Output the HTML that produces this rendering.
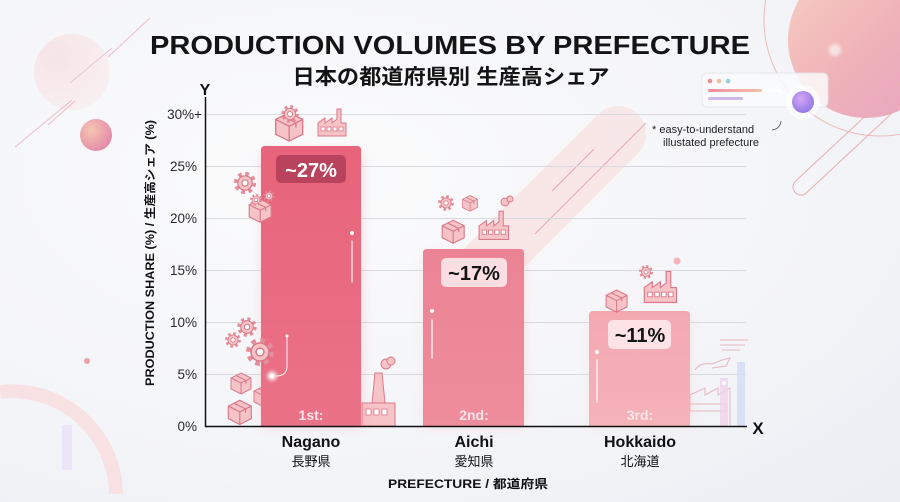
<!DOCTYPE html>
<html><head><meta charset="utf-8"><style>
html,body{margin:0;padding:0;width:900px;height:502px;overflow:hidden;background:#f6f6f9}
svg{display:block;overflow:hidden}
text{font-family:"Liberation Sans","Noto Sans CJK JP",sans-serif}
</style></head><body>
<svg width="900" height="502" viewBox="0 0 900 502" xmlns="http://www.w3.org/2000/svg">
<defs>
<radialGradient id="bg" cx="0.35" cy="0.35" r="0.9">
<stop offset="0" stop-color="#fbfbfc"/><stop offset="0.6" stop-color="#f4f5f8"/><stop offset="1" stop-color="#eceef4"/>
</radialGradient>
<linearGradient id="sun" x1="0" y1="0" x2="1" y2="1">
<stop offset="0" stop-color="#f7cfc4"/><stop offset="0.5" stop-color="#f0b4b8"/><stop offset="1" stop-color="#e6a2c4"/>
</linearGradient>
<radialGradient id="ball" cx="0.35" cy="0.35" r="0.7">
<stop offset="0" stop-color="#f6c6b0"/><stop offset="1" stop-color="#e38aa8"/>
</radialGradient>
<radialGradient id="faint" cx="0.3" cy="0.3" r="0.8">
<stop offset="0" stop-color="#f6dfe2"/><stop offset="1" stop-color="#f9eef0"/>
</radialGradient>
<radialGradient id="orb" cx="0.4" cy="0.35" r="0.7">
<stop offset="0" stop-color="#d4a6f2"/><stop offset="1" stop-color="#8f78e6"/>
</radialGradient>
<linearGradient id="b1" x1="0" y1="0" x2="0" y2="1"><stop offset="0" stop-color="#e8647b"/><stop offset="1" stop-color="#ea7287"/></linearGradient>
<linearGradient id="b2" x1="0" y1="0" x2="0" y2="1"><stop offset="0" stop-color="#eb8394"/><stop offset="1" stop-color="#ee8d9c"/></linearGradient>
<linearGradient id="b3" x1="0" y1="0" x2="0" y2="1"><stop offset="0" stop-color="#f4a9b1"/><stop offset="1" stop-color="#f5b2b9"/></linearGradient>
<linearGradient id="cardbar" x1="0" x2="1"><stop offset="0" stop-color="#ec8fa0"/><stop offset="1" stop-color="#f6c1a2"/></linearGradient>
<filter id="sh" x="-30%" y="-20%" width="160%" height="140%"><feGaussianBlur stdDeviation="6"/></filter>
<filter id="glow" x="-100%" y="-100%" width="300%" height="300%"><feGaussianBlur stdDeviation="1.5"/></filter>
<g id="box">
<path d="M12 2 L22 7 L22 18 L12 23 L2 18 L2 7 Z" fill="#f6c3c6" stroke="#d9798a" stroke-width="1"/>
<path d="M2 7 L12 12 L22 7 M12 12 L12 23" fill="none" stroke="#d9798a" stroke-width="1"/>
<path d="M7 4.5 L17 9.5 L17 13" fill="none" stroke="#d9798a" stroke-width="1"/>
</g>
<g id="gear">
<circle r="7.6" fill="none" stroke="#e58e9b" stroke-width="3.4" stroke-dasharray="3 2.97"/>
<circle r="6" fill="#f6c3c6" stroke="#d9798a" stroke-width="1"/>
<circle r="2.6" fill="#fff" stroke="#d9798a" stroke-width="1"/>
</g>
<g id="fac">
<path d="M2 30 V17 L9 12 V17 L16 12 V17 L21 13 V3 H25 V17 H30 V30 Z" fill="#f6c3c6" stroke="#d9798a" stroke-width="1"/>
<rect x="5" y="21" width="4" height="4" fill="#fff" stroke="#d9798a" stroke-width="0.8"/>
<rect x="11" y="21" width="4" height="4" fill="#fff" stroke="#d9798a" stroke-width="0.8"/>
<rect x="17" y="21" width="4" height="4" fill="#fff" stroke="#d9798a" stroke-width="0.8"/>
<rect x="23" y="21" width="4" height="4" fill="#fff" stroke="#d9798a" stroke-width="0.8"/>
</g>
</defs>

<rect width="900" height="502" fill="url(#bg)"/>

<!-- top-right decoration -->
<circle cx="880" cy="20" r="116" fill="none" stroke="#ecbcbc" stroke-width="1"/>
<circle cx="866" cy="40" r="78" fill="url(#sun)"/>
<circle cx="835" cy="50" r="6" fill="#fff" opacity="0.6" filter="url(#glow)"/>
<rect x="-8" y="-8" width="180" height="16" rx="8" transform="translate(801,187) rotate(-43)" fill="none" stroke="#e9afb0" stroke-width="1"/>

<!-- left decorations -->
<circle cx="72" cy="72" r="38" fill="url(#faint)" opacity="0.8"/>
<line x1="15" y1="147" x2="72" y2="100" stroke="#efbcc4" stroke-width="1"/>
<line x1="48" y1="125" x2="75" y2="101" stroke="#efbcc4" stroke-width="1"/>
<line x1="70" y1="83" x2="112" y2="48" stroke="#e6c6d0" stroke-width="1"/>
<line x1="108" y1="57" x2="150" y2="18" stroke="#efbcc4" stroke-width="1"/>
<circle cx="96" cy="135" r="16" fill="url(#ball)"/>
<circle cx="87" cy="361" r="3" fill="#eca1ad"/>
<path d="M 0 392 A 104 104 0 0 1 116 494" fill="none" stroke="#f7e1e3" stroke-width="14"/>
<rect x="62" y="425" width="10" height="45" fill="#e8e2f6" opacity="0.8"/>

<!-- diagonal band -->
<rect x="-28" y="-28" width="290" height="56" rx="28" transform="translate(618,134) rotate(135)" fill="#f9dfdf" opacity="0.7"/>
<line x1="552" y1="191" x2="594" y2="149" stroke="#e3a2b5" stroke-width="1"/>
<line x1="535" y1="234" x2="646" y2="123" stroke="#e8a9b0" stroke-width="1"/>

<!-- card UI -->
<rect x="702" y="73" width="126" height="34" rx="5" fill="#fbfbfd" opacity="0.85" stroke="#e6e6ec" stroke-width="1"/>
<circle cx="710" cy="81" r="2.3" fill="#ee8f98"/>
<circle cx="719" cy="81" r="2.3" fill="#f5c09a"/>
<circle cx="728" cy="81" r="2.3" fill="#8fd3d8"/>
<rect x="708" y="89" width="54" height="3" rx="1.5" fill="url(#cardbar)"/>
<rect x="762" y="89" width="20" height="3" rx="1.5" fill="#ffffff"/>
<rect x="708" y="97" width="35" height="3" rx="1.5" fill="#cdb9ea"/>
<circle cx="803" cy="102" r="17" fill="#ffffff" opacity="0.6"/>
<circle cx="803" cy="102" r="11" fill="url(#orb)"/>
<path d="M772 130 Q780 129 781 121" fill="none" stroke="#444" stroke-width="0.8"/>
<text x="652" y="133" font-size="11" fill="#222">* easy-to-understand</text>
<text x="663" y="146" font-size="11" fill="#222">illustated prefecture</text>

<!-- gridlines -->
<g stroke="#d9dadf" stroke-width="1">
<line x1="206" y1="114.5" x2="746" y2="114.5"/>
<line x1="206" y1="166.5" x2="746" y2="166.5"/>
<line x1="206" y1="218.5" x2="746" y2="218.5"/>
<line x1="206" y1="270.5" x2="746" y2="270.5"/>
<line x1="206" y1="322.5" x2="746" y2="322.5"/>
<line x1="206" y1="374.5" x2="746" y2="374.5"/>
</g>

<!-- title -->
<text x="450" y="54" text-anchor="middle" font-size="26" font-weight="bold" fill="#141414" textLength="600" lengthAdjust="spacingAndGlyphs">PRODUCTION VOLUMES BY PREFECTURE</text>
<text x="451" y="84" text-anchor="middle" font-size="21" font-weight="bold" fill="#141414" textLength="317" lengthAdjust="spacingAndGlyphs">日本の都道府県別 生産高シェア</text>

<!-- axis labels -->
<text x="205" y="95" text-anchor="middle" font-size="16" font-weight="bold" fill="#111">Y</text>
<text x="758" y="434" text-anchor="middle" font-size="17" font-weight="bold" fill="#111">X</text>
<text transform="translate(154,253) rotate(-90)" text-anchor="middle" font-size="11.5" font-weight="bold" fill="#111" textLength="266" lengthAdjust="spacingAndGlyphs">PRODUCTION SHARE (%) / 生産高シェア (%)</text>
<text x="468" y="488" text-anchor="middle" font-size="12" font-weight="bold" fill="#111" textLength="160" lengthAdjust="spacingAndGlyphs">PREFECTURE / 都道府県</text>

<g font-size="13.5" fill="#2a2a2a" text-anchor="end">
<text x="202" y="119">30%+</text>
<text x="197" y="171">25%</text>
<text x="197" y="223">20%</text>
<text x="197" y="275">15%</text>
<text x="197" y="327">10%</text>
<text x="197" y="379">5%</text>
<text x="197" y="431">0%</text>
</g>

<!-- icons behind bars -->
<use href="#box" transform="translate(252,384) scale(1.0)"/>
<g transform="translate(362,355)">
<circle cx="24" cy="9" r="5" fill="#f6c3c6" stroke="#d9798a"/>
<circle cx="29" cy="6" r="4" fill="#f6c3c6" stroke="#d9798a"/>
<path d="M10 48 L13 18 L20 18 L23 48 Z" fill="#f6c3c6" stroke="#d9798a"/>
<rect x="0" y="48" width="33" height="23" fill="#f6c3c6" stroke="#d9798a"/>
<rect x="4" y="54" width="5" height="6" fill="#fff" stroke="#d9798a" stroke-width="0.8"/>
<rect x="12" y="54" width="5" height="6" fill="#fff" stroke="#d9798a" stroke-width="0.8"/>
<rect x="20" y="54" width="5" height="6" fill="#fff" stroke="#d9798a" stroke-width="0.8"/>
</g>
<!-- faded right factory -->
<g opacity="0.75" fill="none" stroke="#e6a2ac" stroke-width="1">
<line x1="720" y1="340" x2="748" y2="340"/><line x1="720" y1="345" x2="745" y2="345"/><line x1="722" y1="350" x2="740" y2="350"/>
<path d="M695 370 Q700 362 712 364 L722 360 L730 358 L726 366 L712 368"/>
<path d="M690 410 L690 395 L705 388 L705 395 L718 388 L718 395 L730 388 L730 425"/>
<rect x="690" y="404" width="36" height="7"/>
</g>
<rect x="720" y="378" width="8" height="48" fill="#efd3ea" opacity="0.8"/>
<rect x="737" y="362" width="8" height="64" fill="#d8def5" opacity="0.9"/>
<circle cx="724" cy="383" r="2" fill="#fff"/>

<!-- bar shadows -->
<rect x="263" y="152" width="98" height="274" fill="#eb8a9c" opacity="0.35" filter="url(#sh)"/>
<rect x="425" y="255" width="99" height="171" fill="#ef9daa" opacity="0.3" filter="url(#sh)"/>
<rect x="591" y="317" width="99" height="109" fill="#f4b5bc" opacity="0.3" filter="url(#sh)"/>

<!-- bars -->
<path d="M261 426 V150 Q261 146 265 146 H357 Q361 146 361 150 V426 Z" fill="url(#b1)"/>
<path d="M423 426 V253 Q423 249 427 249 H520 Q524 249 524 253 V426 Z" fill="url(#b2)"/>
<path d="M589 426 V315 Q589 311 593 311 H686 Q690 311 690 315 V426 Z" fill="url(#b3)"/>

<!-- sparkles -->
<g stroke="#fff" stroke-linecap="round">
<line x1="352" y1="241" x2="352" y2="282" stroke-width="1.2" opacity="0.9"/>
<line x1="346" y1="362" x2="346" y2="400" stroke-width="2" opacity="0.8" filter="url(#glow)"/>
<path d="M287 338 V366 Q287 376 276 376" fill="none" stroke-width="1" opacity="0.9"/>
<line x1="432" y1="320" x2="432" y2="358" stroke-width="1.5" opacity="0.8"/>
<line x1="597" y1="360" x2="597" y2="402" stroke-width="1.5" opacity="0.8"/>
</g>
<circle cx="352" cy="233" r="2" fill="#fff"/>
<circle cx="287" cy="336" r="1.5" fill="#fff"/>
<circle cx="272" cy="376" r="5" fill="#fff" opacity="0.7" filter="url(#glow)"/>
<circle cx="272" cy="376" r="2.5" fill="#fff"/>
<circle cx="432" cy="311" r="2" fill="#fff"/>
<circle cx="597" cy="352" r="2" fill="#fff"/>

<!-- icons -->
<use href="#box" transform="translate(273,110) scale(1.35)"/>
<use href="#gear" transform="translate(290,114) scale(0.95)"/>
<use href="#fac" transform="translate(316,106) scale(1.0)"/>

<use href="#gear" transform="translate(245,183) scale(1.2)"/>
<use href="#box" transform="translate(247,197) scale(1.1)"/>
<use href="#gear" transform="translate(256,200) scale(0.65)"/>
<use href="#gear" transform="translate(269,196) scale(0.6)"/>

<use href="#gear" transform="translate(247,327) scale(1.05)"/>
<use href="#gear" transform="translate(233,340) scale(0.85)"/>
<use href="#gear" transform="translate(260,352) scale(1.5)"/>
<use href="#box" transform="translate(229,371) scale(1.0)"/>
<use href="#box" transform="translate(226,398) scale(1.15)"/>

<use href="#gear" transform="translate(446,203) scale(0.85)"/>
<use href="#box" transform="translate(461,194) scale(0.75)"/>
<use href="#box" transform="translate(440,218) scale(1.1)"/>
<use href="#fac" transform="translate(477,208) scale(1.05)"/>
<circle cx="505" cy="202" r="4" fill="#f6c3c6" stroke="#d9798a"/>
<circle cx="510" cy="199" r="3" fill="#f6c3c6" stroke="#d9798a"/>

<use href="#box" transform="translate(604,288) scale(1.05)"/>
<use href="#gear" transform="translate(646,272) scale(0.75)"/>
<use href="#fac" transform="translate(642,268) scale(1.15)"/>
<circle cx="677" cy="261" r="3.5" fill="#f4b3b8"/>

<!-- value boxes -->
<rect x="276" y="155" width="70" height="28" rx="5" fill="#b9425c"/>
<text x="311" y="177" text-anchor="middle" font-size="20" font-weight="bold" fill="#fff">~27%</text>
<rect x="441" y="258" width="66" height="29" rx="5" fill="#fce3e5" opacity="0.95"/>
<text x="474" y="280" text-anchor="middle" font-size="20" font-weight="bold" fill="#141414">~17%</text>
<rect x="608" y="320" width="63" height="29" rx="5" fill="#fde6e8" opacity="0.95"/>
<text x="640" y="342" text-anchor="middle" font-size="20" font-weight="bold" fill="#141414">~11%</text>

<!-- rank labels -->
<g font-size="14" font-weight="bold" fill="#fde4e8" text-anchor="middle">
<text x="311" y="420">1st:</text>
<text x="474" y="420">2nd:</text>
<text x="640" y="420">3rd:</text>
</g>

<!-- axes -->
<line x1="205.5" y1="97" x2="205.5" y2="427" stroke="#111" stroke-width="1.5"/>
<line x1="205" y1="426.5" x2="747" y2="426.5" stroke="#111" stroke-width="1.5"/>

<!-- categories -->
<g text-anchor="middle" fill="#111">
<text x="311" y="447" font-size="16" font-weight="bold">Nagano</text>
<text x="311" y="466" font-size="13">長野県</text>
<text x="474" y="447" font-size="16" font-weight="bold">Aichi</text>
<text x="474" y="466" font-size="13">愛知県</text>
<text x="640" y="447" font-size="16" font-weight="bold">Hokkaido</text>
<text x="640" y="466" font-size="13">北海道</text>
</g>
</svg>
</body></html>
